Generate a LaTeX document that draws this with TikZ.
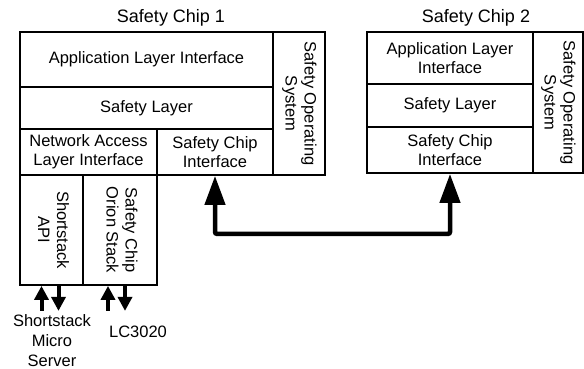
\documentclass[tikz,border=0pt]{standalone}
\usepackage{fontspec}
\usepackage{graphicx}
\setmainfont{Liberation Sans}
\usetikzlibrary{arrows.meta, positioning}
\newcommand{\rottext}[1]{\rotatebox[origin=c]{-90}{\begin{tabular}{@{}c@{}}#1\end{tabular}}}
\tikzset{
  every picture/.style={x=1pt, y=-1pt, line width=1.8pt},
  layer/.style={draw, inner sep=0pt, align=center, font=\fontsize{16.5}{19}\selectfont},
  chiptitle/.style={font=\fontsize{18}{21}\selectfont, anchor=base},
  note/.style={inner sep=0pt, align=center, font=\fontsize{16.5}{20}\selectfont},
  busarrow/.style={{Triangle[length=29pt, width=20pt]}-{Triangle[length=29pt, width=20pt]}, line width=4.5pt},
  ioarrow/.style={-{Triangle[length=14pt, width=14pt]}, line width=4pt},
}

\begin{document}
\begin{tikzpicture}
  \useasboundingbox (0,0) rectangle (584,369);
  % safety chip 1
  \node[chiptitle] (title1) at (171,23) {Safety Chip 1};
  \node[layer, minimum width=253pt, minimum height=55pt] (app1) at (146.5,59.5) {Application Layer Interface};
  \node[layer, minimum width=253pt, minimum height=42pt] (safe1) at (146.5,108) {Safety Layer};
  \node[layer, minimum width=137pt, minimum height=46pt] (nal1) at (88.5,152) {Network Access\\Layer Interface};
  \node[layer, minimum width=116pt, minimum height=46pt] (sci1) at (215,152) {Safety Chip\\Interface};
  \node[layer, minimum width=52pt, minimum height=143pt] (os1) at (299,103.5) {\rottext{Safety Operating\\System}};
  \node[layer, minimum width=63pt, minimum height=110pt] (api1) at (51.5,230) {\rottext{Shortstack\\API}};
  \node[layer, minimum width=74pt, minimum height=110pt] (orion1) at (120,230) {\rottext{Safety Chip\\Orion Stack}};
  % safety chip 2
  \node[chiptitle] (title2) at (476,23) {Safety Chip 2};
  \node[layer, minimum width=166pt, minimum height=52pt] (app2) at (450,58) {Application Layer\\Interface};
  \node[layer, minimum width=166pt, minimum height=43pt] (safe2) at (450,105.5) {Safety Layer};
  \node[layer, minimum width=166pt, minimum height=46pt] (sci2) at (450,150) {Safety Chip\\Interface};
  \node[layer, minimum width=50pt, minimum height=141pt] (os2) at (558,102.5) {\rottext{Safety Operating\\System}};
  % external parts
  \node[note, anchor=north] (sms) at (52,314) {Shortstack\\Micro\\Server};
  \node[note, anchor=base] (lc) at (138,337) {LC3020};
  % connections
  \draw[busarrow, rounded corners=2pt] (sci1.south) -- ++(0,58) -| (sci2.south);
  \foreach \b/\u/\d in {api1/-10/7, orion1/-12/5} {
    \draw[ioarrow] ([xshift=\u pt, yshift=-25pt]\b.south) -- ([xshift=\u pt]\b.south);
    \draw[ioarrow] ([xshift=\d pt]\b.south) -- ([xshift=\d pt, yshift=-25pt]\b.south);
  }
\end{tikzpicture}
\end{document}
